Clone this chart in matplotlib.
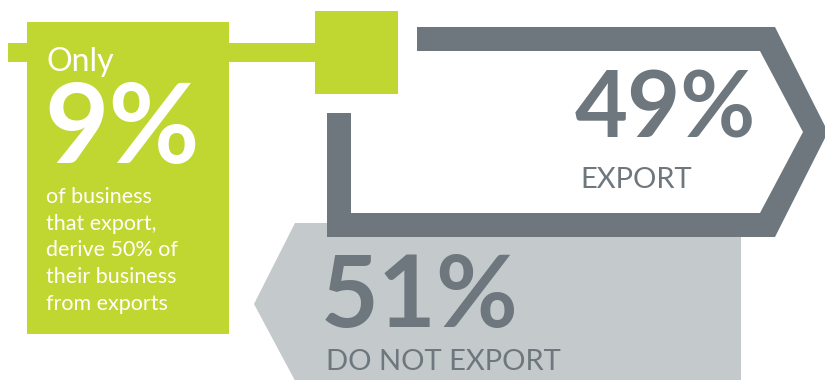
import matplotlib.pyplot as plt
from matplotlib.patches import Polygon, Rectangle

# data
shares = [49, 51]
share_labels = ["EXPORT", "DO NOT EXPORT"]
highlight = 9
highlight_head = "Only"
highlight_lines = ["of business", "that export,", "derive 50% of",
                   "their business", "from exports"]

green = '#bfd730'
dark = '#6d777d'
light = '#c4c9cc'
font = 'Lato'

fig = plt.figure(figsize=(8.25, 3.8), dpi=100)
ax = fig.add_axes([0, 0, 1, 1])
ax.set_xlim(0, 825)
ax.set_ylim(380, 0)
ax.axis('off')

# light grey arrow pointing left (do not export)
ax.add_patch(Polygon([(295, 223), (741, 223), (741, 390), (300, 390), (254, 304)],
                     closed=True, fc=light, ec='none'))

# dark grey open arrow outline pointing right (export)
ax.add_patch(Polygon([(417, 27), (775, 27), (828, 132), (775, 237), (327, 237),
                      (327, 113), (351, 113), (351, 213), (760, 213), (803, 132),
                      (760, 51), (417, 51)],
                     closed=True, fc=dark, ec='none'))

# green box + connector
ax.add_patch(Rectangle((27, 22), 202, 312, fc=green, ec='none'))
ax.add_patch(Rectangle((8, 43), 307, 19, fc=green, ec='none'))
ax.add_patch(Rectangle((315, 11), 83, 83, fc=green, ec='none'))

ax.text(46, 71, highlight_head, color='white', fontsize=23, family=font,
        va='baseline', ha='left')
ax.text(44, 163, f"{highlight}%", color='white', fontsize=80, family=font,
        weight='bold', va='baseline', ha='left')
for i, line in enumerate(highlight_lines):
    ax.text(46, 203 + i * 26.7, line, color='white', fontsize=15.5, family=font,
            va='baseline', ha='left')

# percentages
ax.text(575, 138, f"{shares[0]}%", color=dark, fontsize=66, family=font,
        weight='bold', va='baseline', ha='left')
ax.text(580, 188, share_labels[0], color=dark, fontsize=21, family=font,
        va='baseline', ha='left')
ax.text(321, 327, f"{shares[1]}%", color=dark, fontsize=72, family=font,
        weight='bold', va='baseline', ha='left')
ax.text(326, 370, share_labels[1], color=dark, fontsize=21, family=font,
        va='baseline', ha='left')

fig.savefig('out.png', dpi=100)
